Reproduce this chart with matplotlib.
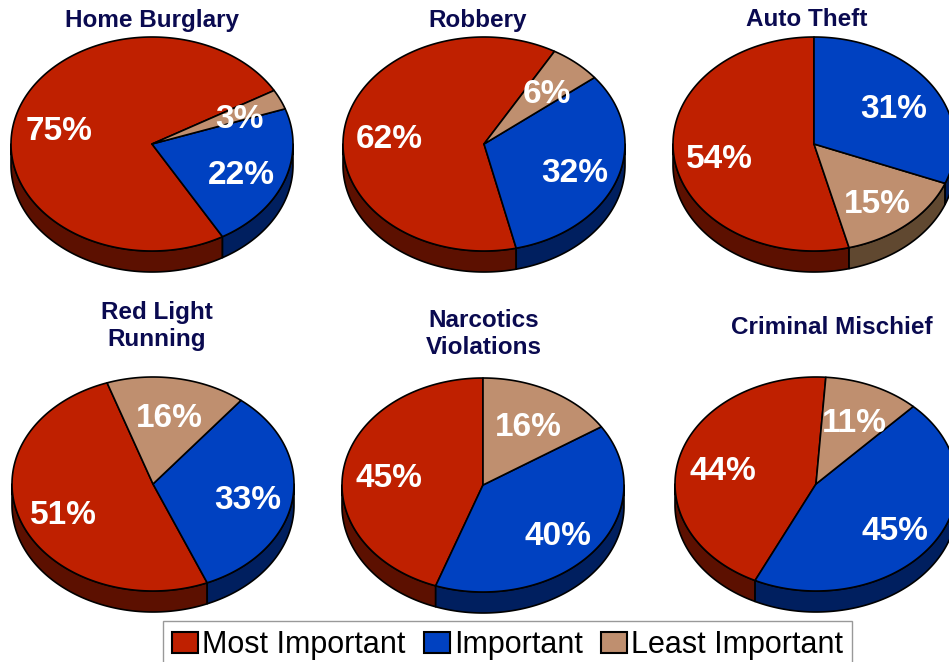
import numpy as np
import matplotlib
matplotlib.use("Agg")
import matplotlib.pyplot as plt
from matplotlib.patches import Polygon, Patch

plt.rcParams['font.family'] = ['Liberation Sans', 'DejaVu Sans']

# ---- data ----
titles = ["Home Burglary", "Robbery", "Auto Theft",
          "Red Light\nRunning", "Narcotics\nViolations", "Criminal Mischief"]
categories = ["Most Important", "Important", "Least Important"]
most_important = [75, 62, 54, 51, 45, 44]
important = [22, 32, 31, 33, 40, 45]
least_important = [3, 6, 15, 16, 16, 11]

# ---- styling / layout ----
top_colors = {"Most Important": "#BF2000", "Important": "#0041C1", "Least Important": "#BF8F6F"}
side_colors = {"Most Important": "#5C1000", "Important": "#001F5F", "Least Important": "#604830"}
title_color = "#0A0A50"
# per pie: wedge order (counter-clockwise) and start angle (deg)
orders = [[0, 1, 2], [0, 1, 2], [0, 2, 1], [0, 1, 2], [0, 1, 2], [0, 1, 2]]
starts = [30, 60, 90, 109, 90, 86]
centers = [(152, 144), (484, 144), (814, 144), (153, 484), (483, 485), (816, 484)]
title_pos = [(152, 20), (478, 20), (807, 20), (157, 326), (484, 334), (832, 327)]
A, B, DEPTH = 141, 107, 21
LABEL_R, LABEL_DY = 0.68, 6

fig = plt.figure(figsize=(9.49, 6.62), dpi=100)
ax = fig.add_axes([0, 0, 1, 1])
ax.set_xlim(0, 949)
ax.set_ylim(662, 0)
ax.axis('off')


def arc(cx, cy, t0, t1, dy=0, n=None):
    if n is None:
        n = max(int(abs(t1 - t0) * 2), 2)
    t = np.radians(np.linspace(t0, t1, n))
    return np.column_stack([cx + A * np.cos(t), cy - B * np.sin(t) + dy])


series = [most_important, important, least_important]
for i in range(6):
    cx, cy = centers[i]
    vals = [series[k][i] for k in orders[i]]
    cats = [categories[k] for k in orders[i]]
    total = float(sum(vals))
    bounds = [starts[i]]
    for v in vals:
        bounds.append(bounds[-1] + v / total * 360.0)
    # sides
    for j, c in enumerate(cats):
        t0, t1 = bounds[j], bounds[j + 1]
        for k in range(-1, 3):
            lo = max(t0, 180 + 360 * k)
            hi = min(t1, 360 + 360 * k)
            if hi > lo:
                top = arc(cx, cy, lo, hi)
                bot = arc(cx, cy, hi, lo, dy=DEPTH)
                ax.add_patch(Polygon(np.vstack([top, bot]), closed=True,
                                     facecolor=side_colors[c], edgecolor='black',
                                     linewidth=1.2, zorder=2, joinstyle='round'))
    # tops
    for j, c in enumerate(cats):
        t0, t1 = bounds[j], bounds[j + 1]
        pts = np.vstack([[cx, cy], arc(cx, cy, t0, t1)])
        ax.add_patch(Polygon(pts, closed=True, facecolor=top_colors[c],
                             edgecolor='black', linewidth=1.2, zorder=3,
                             joinstyle='round'))
        mid = np.radians((t0 + t1) / 2)
        lx = cx + LABEL_R * A * np.cos(mid)
        ly = cy - LABEL_R * B * np.sin(mid) + LABEL_DY
        ax.text(lx, ly, f"{vals[j]}%", color='white', fontsize=24,
                fontweight='bold', ha='center', va='center', zorder=5)
    tx, ty = title_pos[i]
    ax.text(tx, ty, titles[i], color=title_color, fontsize=17.5, fontweight='bold',
            ha='center', va='center', linespacing=1.2, zorder=5)

handles = [Patch(facecolor=top_colors[c], edgecolor='black', linewidth=1.5, label=c)
           for c in categories]
leg = fig.legend(handles=handles, loc='upper left',
                 bbox_to_anchor=(163 / 949, 1 - 621 / 662),
                 ncol=3, fontsize=22, frameon=True, fancybox=False,
                 handlelength=0.85, handleheight=0.69, handletextpad=0.13,
                 columnspacing=0.6, borderpad=0.3, borderaxespad=0)
leg.get_frame().set_edgecolor('#808080')
leg.get_frame().set_linewidth(1.0)

fig.savefig("out.png", dpi=100)
